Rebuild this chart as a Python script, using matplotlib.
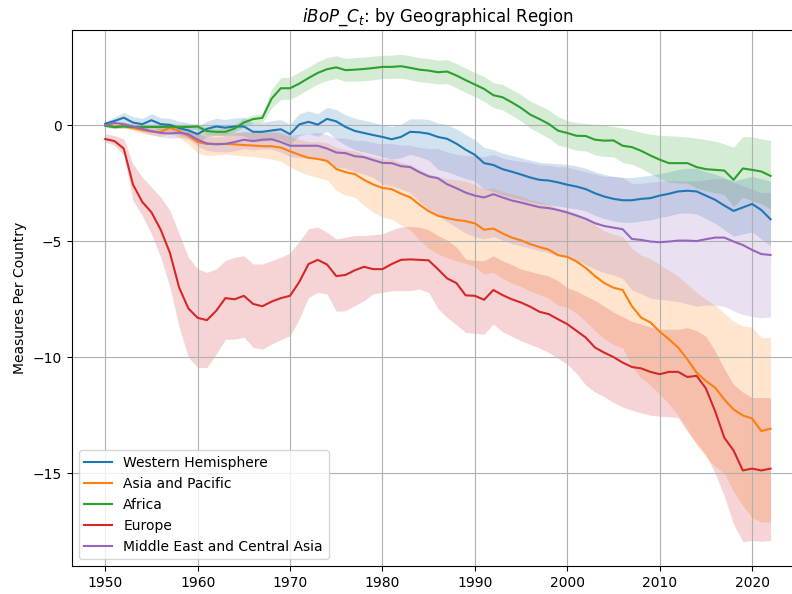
import numpy as np
import matplotlib
matplotlib.use("Agg")
import matplotlib.pyplot as plt

years = np.arange(1950, 2023)

regions = ["Western Hemisphere", "Asia and Pacific", "Africa", "Europe",
           "Middle East and Central Asia"]

# Western Hemisphere
wh_mean = [0.07, 0.19, 0.33, 0.12, 0.05, 0.22, 0.05, 0.02, -0.12, -0.22,
           -0.38, -0.15, -0.05, -0.1, -0.05, -0.05, -0.28, -0.28, -0.22, -0.17,
           -0.38, 0.04, 0.15, 0.03, 0.28, 0.17, -0.07, -0.24, -0.33, -0.42,
           -0.5, -0.6, -0.5, -0.28, -0.3, -0.36, -0.5, -0.58, -0.79, -1.05,
           -1.27, -1.63, -1.71, -1.89, -2.0, -2.12, -2.25, -2.35, -2.38, -2.46,
           -2.56, -2.64, -2.75, -2.93, -3.07, -3.17, -3.23, -3.23, -3.17, -3.14,
           -3.03, -2.95, -2.85, -2.82, -2.85, -3.03, -3.21, -3.46, -3.69, -3.54,
           -3.39, -3.65, -4.05]
wh_upper = [0.15, 0.35, 0.55, 0.38, 0.3, 0.5, 0.32, 0.3, 0.18, 0.1,
            -0.05, 0.18, 0.3, 0.25, 0.32, 0.35, 0.1, 0.12, 0.2, 0.25,
            0.05, 0.5, 0.62, 0.5, 0.78, 0.68, 0.45, 0.3, 0.22, 0.12,
            0.02, -0.05, 0.05, 0.28, 0.28, 0.25, 0.1, 0.03, -0.15, -0.4,
            -0.62, -0.95, -1.05, -1.2, -1.3, -1.4, -1.5, -1.6, -1.62, -1.65,
            -1.68, -1.75, -1.85, -2.0, -2.12, -2.2, -2.25, -2.25, -2.2, -2.15,
            -2.08, -2.0, -1.9, -1.85, -1.85, -2.0, -2.1, -2.25, -2.4, -2.3,
            -2.2, -2.3, -2.4]
wh_lower = [0.0, 0.05, 0.12, -0.1, -0.2, -0.05, -0.22, -0.28, -0.42, -0.55,
            -0.72, -0.5, -0.42, -0.45, -0.42, -0.45, -0.68, -0.68, -0.65, -0.6,
            -0.82, -0.45, -0.35, -0.48, -0.25, -0.6, -0.85, -1.05, -1.15, -1.25,
            -1.35, -1.45, -1.4, -1.25, -1.35, -1.5, -1.9, -2.0, -2.15, -2.3,
            -2.4, -2.75, -2.85, -3.0, -3.1, -3.2, -3.3, -3.38, -3.42, -3.48,
            -3.55, -3.6, -3.7, -3.88, -4.02, -4.12, -4.18, -4.18, -4.12, -4.08,
            -3.98, -3.9, -3.8, -3.78, -3.82, -4.02, -4.22, -4.5, -4.78, -4.68,
            -4.6, -4.9, -5.2]

# Asia and Pacific
ap_mean = [0.0, -0.05, -0.03, -0.12, -0.2, -0.27, -0.28, -0.1, -0.25, -0.45,
           -0.72, -0.8, -0.8, -0.8, -0.82, -0.85, -0.87, -0.9, -0.9, -0.96,
           -1.12, -1.27, -1.4, -1.45, -1.53, -1.88, -2.02, -2.1, -2.35, -2.55,
           -2.7, -2.75, -2.95, -3.1, -3.42, -3.7, -3.9, -4.0, -4.08, -4.13,
           -4.23, -4.5, -4.45, -4.66, -4.84, -4.96, -5.12, -5.25, -5.36, -5.6,
           -5.67, -5.87, -6.15, -6.5, -6.8, -7.0, -7.1, -7.8, -8.29, -8.5,
           -8.89, -9.22, -9.58, -10.09, -10.66, -11.02, -11.31, -11.82, -12.25, -12.51,
           -12.64, -13.18, -13.08]
ap_upper = [0.05, 0.02, 0.05, -0.02, -0.08, -0.12, -0.1, 0.1, -0.02, -0.15,
            -0.3, -0.35, -0.33, -0.3, -0.3, -0.3, -0.3, -0.32, -0.3, -0.35,
            -0.5, -0.6, -0.7, -0.7, -0.75, -0.95, -1.05, -1.1, -1.25, -1.35,
            -1.45, -1.45, -1.6, -1.7, -1.9, -2.1, -2.2, -2.3, -2.35, -2.4,
            -2.55, -2.75, -2.7, -2.85, -2.95, -3.05, -3.2, -3.3, -3.4, -3.6,
            -3.65, -3.8, -4.0, -4.3, -4.55, -4.7, -4.8, -5.3, -5.6, -5.75,
            -6.0, -6.25, -6.5, -6.85, -7.2, -7.5, -7.75, -8.1, -8.45, -8.65,
            -8.7, -9.15, -9.15]
ap_lower = [-0.05, -0.12, -0.12, -0.22, -0.35, -0.42, -0.48, -0.35, -0.55, -0.8,
            -1.2, -1.3, -1.28, -1.25, -1.28, -1.32, -1.35, -1.4, -1.45, -1.55,
            -1.8, -2.0, -2.15, -2.25, -2.35, -2.8, -3.0, -3.1, -3.45, -3.75,
            -3.95, -4.05, -4.3, -4.5, -4.95, -5.3, -5.55, -5.7, -5.85, -5.95,
            -6.1, -6.4, -6.35, -6.6, -6.8, -6.95, -7.15, -7.3, -7.45, -7.75,
            -7.85, -8.1, -8.45, -8.85, -9.2, -9.45, -9.6, -10.4, -10.9, -11.2,
            -11.6, -12.0, -12.5, -13.1, -13.8, -14.3, -14.7, -15.0, -15.8, -16.4,
            -16.9, -17.1, -17.1]

# Africa
af_mean = [-0.02, -0.08, -0.05, -0.07, -0.07, -0.07, -0.07, -0.06, -0.07, -0.07,
           -0.05, -0.25, -0.28, -0.28, -0.14, 0.12, 0.27, 0.32, 1.15, 1.6,
           1.6, 1.8, 2.04, 2.26, 2.42, 2.5, 2.38, 2.4, 2.43, 2.47,
           2.52, 2.52, 2.55, 2.48, 2.4, 2.36, 2.29, 2.32, 2.15, 1.95,
           1.76, 1.57, 1.3, 1.21, 0.99, 0.75, 0.46, 0.27, 0.06, -0.23,
           -0.33, -0.45, -0.46, -0.62, -0.66, -0.65, -0.88, -0.94, -1.1, -1.3,
           -1.48, -1.63, -1.63, -1.63, -1.8, -1.89, -1.92, -1.95, -2.35, -1.86,
           -1.92, -1.99, -2.18]
af_upper = [0.05, 0.0, 0.05, 0.05, 0.05, 0.05, 0.05, 0.06, 0.05, 0.05,
            0.08, -0.1, -0.12, -0.1, 0.05, 0.3, 0.45, 0.5, 1.55, 2.05,
            2.08, 2.3, 2.52, 2.75, 2.92, 3.0, 2.88, 2.92, 2.95, 2.98,
            3.02, 3.03, 3.06, 3.0, 2.92, 2.88, 2.8, 2.83, 2.67, 2.47,
            2.28, 2.1, 1.84, 1.76, 1.55, 1.32, 1.04, 0.86, 0.66, 0.38,
            0.2, 0.12, 0.08, 0.03, 0.0, -0.05, -0.12, -0.2, -0.3, -0.38,
            -0.43, -0.45, -0.47, -0.5, -0.55, -0.62, -0.68, -0.8, -0.94, -0.48,
            -0.5, -0.58, -0.65]
af_lower = [-0.08, -0.15, -0.12, -0.15, -0.16, -0.17, -0.17, -0.16, -0.18, -0.18,
            -0.18, -0.4, -0.42, -0.42, -0.3, -0.08, 0.08, 0.12, 0.75, 1.12,
            1.12, 1.32, 1.56, 1.78, 1.93, 2.02, 1.9, 1.9, 1.92, 1.96,
            2.02, 2.02, 2.04, 1.96, 1.88, 1.84, 1.78, 1.8, 1.62, 1.42,
            1.24, 1.04, 0.76, 0.66, 0.43, 0.18, -0.12, -0.33, -0.55, -0.85,
            -0.95, -1.08, -1.1, -1.28, -1.34, -1.35, -1.6, -1.68, -1.85, -2.08,
            -2.28, -2.45, -2.48, -2.5, -2.7, -2.82, -2.9, -2.98, -3.5, -3.1,
            -3.25, -3.38, -3.6]

# Europe
eu_mean = [-0.59, -0.68, -1.0, -2.55, -3.3, -3.75, -4.5, -5.5, -7.0, -7.9,
           -8.3, -8.4, -8.0, -7.45, -7.5, -7.35, -7.7, -7.8, -7.6, -7.45,
           -7.35, -6.75, -5.98, -5.8, -6.0, -6.5, -6.45, -6.25, -6.1, -6.2,
           -6.2, -5.98, -5.8, -5.78, -5.8, -5.82, -6.2, -6.6, -6.8, -7.33,
           -7.35, -7.52, -7.1, -7.32, -7.5, -7.64, -7.82, -8.04, -8.14, -8.36,
           -8.57, -8.86, -9.15, -9.58, -9.8, -9.99, -10.23, -10.42, -10.48, -10.63,
           -10.73, -10.63, -10.63, -10.85, -10.8, -11.34, -12.32, -13.47, -14.02, -14.88,
           -14.8, -14.88, -14.8]
eu_upper = [-0.36, -0.45, -0.58, -1.66, -2.23, -2.66, -3.1, -3.67, -4.68, -5.69,
            -6.19, -6.34, -6.19, -5.83, -5.69, -5.62, -5.98, -5.98, -5.83, -5.69,
            -5.5, -5.0, -4.46, -4.39, -4.61, -4.9, -4.82, -4.75, -4.75, -4.72,
            -4.68, -4.51, -4.38, -4.36, -4.39, -4.5, -4.75, -4.95, -5.25, -5.76,
            -5.82, -5.84, -5.62, -5.85, -6.0, -6.2, -6.3, -6.4, -6.5, -6.7,
            -7.0, -7.15, -7.35, -7.55, -7.8, -8.05, -8.25, -8.45, -8.57, -8.7,
            -8.79, -8.79, -8.79, -8.72, -8.85, -9.1, -9.73, -10.5, -11.17, -11.5,
            -11.74, -11.74, -11.74]
eu_lower = [-0.72, -0.86, -1.3, -3.24, -3.89, -4.68, -5.69, -6.98, -8.71, -10.0,
            -10.44, -10.44, -9.86, -9.22, -9.22, -9.14, -9.57, -9.65, -9.43, -9.24,
            -9.07, -8.35, -7.42, -7.2, -7.27, -8.02, -7.99, -7.78, -7.56, -7.27,
            -7.2, -7.13, -7.13, -7.13, -7.06, -7.2, -7.9, -8.29, -8.6, -8.93,
            -8.97, -9.0, -8.57, -8.9, -9.1, -9.29, -9.45, -9.6, -9.8, -10.05,
            -10.3, -10.7, -11.2, -11.5, -11.7, -11.95, -12.15, -12.28, -12.4, -12.5,
            -12.54, -12.56, -12.6, -13.2, -13.7, -14.2, -15.0, -16.0, -17.2, -17.95,
            -17.9, -17.93, -17.9]

# Middle East and Central Asia
me_mean = [0.0, 0.1, 0.05, -0.05, -0.15, -0.25, -0.33, -0.35, -0.32, -0.38,
           -0.62, -0.78, -0.82, -0.8, -0.72, -0.62, -0.68, -0.62, -0.6, -0.72,
           -0.88, -0.88, -0.88, -0.88, -1.0, -1.17, -1.2, -1.33, -1.37, -1.5,
           -1.62, -1.63, -1.76, -1.8, -2.02, -2.2, -2.28, -2.54, -2.71, -2.9,
           -3.03, -3.11, -2.97, -3.11, -3.24, -3.33, -3.43, -3.53, -3.57, -3.65,
           -3.76, -3.89, -4.03, -4.22, -4.34, -4.41, -4.48, -4.9, -4.94, -5.01,
           -5.04, -5.01, -4.97, -4.97, -4.99, -4.91, -4.84, -4.84, -5.01, -5.16,
           -5.37, -5.55, -5.59]
me_upper = [0.05, 0.18, 0.15, 0.05, -0.03, -0.1, -0.15, -0.17, -0.12, -0.15,
            -0.35, -0.48, -0.5, -0.45, -0.35, -0.25, -0.3, -0.22, -0.18, -0.28,
            -0.42, -0.38, -0.35, -0.3, -0.4, -0.55, -0.55, -0.65, -0.65, -0.75,
            -0.8, -0.78, -0.85, -0.85, -0.95, -1.0, -1.0, -1.15, -1.25, -1.3,
            -1.3, -1.35, -1.25, -1.4, -1.5, -1.55, -1.6, -1.7, -1.72, -1.78,
            -1.8, -1.9, -2.0, -2.1, -2.2, -2.2, -2.25, -2.5, -2.5, -2.45,
            -2.4, -2.4, -2.4, -2.4, -2.4, -2.35, -2.3, -2.3, -2.45, -2.6,
            -2.75, -2.9, -2.9]
me_lower = [-0.05, 0.02, -0.05, -0.15, -0.28, -0.4, -0.5, -0.55, -0.52, -0.6,
            -0.9, -1.08, -1.14, -1.15, -1.1, -1.0, -1.06, -1.02, -1.02, -1.16,
            -1.35, -1.4, -1.42, -1.45, -1.6, -1.8, -1.85, -2.0, -2.1, -2.25,
            -2.55, -2.6, -2.75, -2.9, -3.3, -3.6, -3.9, -4.15, -4.4, -4.65,
            -4.8, -4.9, -4.8, -4.95, -5.1, -5.2, -5.3, -5.4, -5.5, -5.6,
            -5.7, -5.85, -6.0, -6.2, -6.35, -6.45, -6.6, -7.1, -7.25, -7.45,
            -7.5, -7.55, -7.6, -7.7, -7.8, -7.75, -7.75, -7.8, -8.0, -8.15,
            -8.25, -8.3, -8.26]

series = [(wh_mean, wh_lower, wh_upper),
          (ap_mean, ap_lower, ap_upper),
          (af_mean, af_lower, af_upper),
          (eu_mean, eu_lower, eu_upper),
          (me_mean, me_lower, me_upper)]

fig = plt.figure(figsize=(7.92, 5.94), dpi=100)
ax = fig.add_axes([0.0909, 0.0471, 0.924, 0.9024])

for i, (name, (m, lo, hi)) in enumerate(zip(regions, series)):
    c = "C%d" % i
    ax.fill_between(years, lo, hi, color=c, alpha=0.2, linewidth=0)
    ax.plot(years, m, color=c, linewidth=1.5, label=name)

ax.set_title(r"$iBoP\_C_t$: by Geographical Region")
ax.set_ylabel("Measures Per Country")
ax.set_yticks([0, -5, -10, -15])
ax.grid(True)
ax.legend(loc="lower left")

fig.savefig("out.png", dpi=100)
